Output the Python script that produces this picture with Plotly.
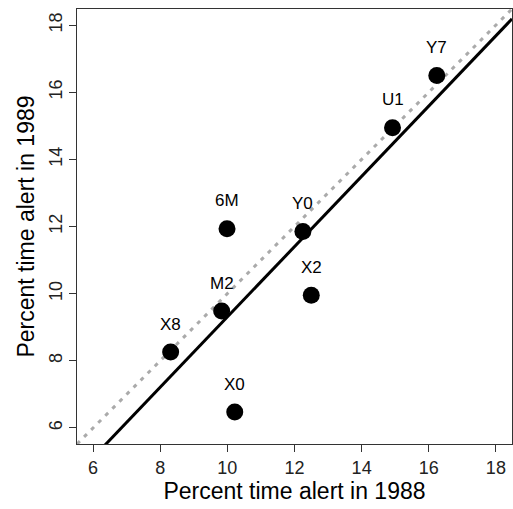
import numpy as np
import plotly.graph_objects as go

labels = ["6M", "Y0", "X2", "M2", "X8", "X0", "Y7", "U1"]
alert_1988 = [9.99, 12.25, 12.50, 9.83, 8.31, 10.22, 16.24, 14.92]
alert_1989 = [11.93, 11.85, 9.95, 9.48, 8.26, 6.47, 16.50, 14.94]
tick_vals = [6, 8, 10, 12, 14, 16, 18]
axis_range = [5.52, 18.48]

slope, intercept = np.polyfit(alert_1988, alert_1989, 1)
line_x = np.array(axis_range)

fig = go.Figure()
fig.add_trace(go.Scatter(x=line_x, y=line_x, mode="lines",
                         line=dict(color="#aaaaaa", width=3, dash="4px,6px"),
                         hoverinfo="skip", showlegend=False))
fig.add_trace(go.Scatter(x=line_x, y=slope * line_x + intercept, mode="lines",
                         line=dict(color="black", width=3),
                         hoverinfo="skip", showlegend=False))
fig.add_trace(go.Scatter(x=alert_1988, y=alert_1989, mode="markers",
                         marker=dict(color="black", size=17),
                         hoverinfo="skip", showlegend=False))
for lab, xv, yv in zip(labels, alert_1988, alert_1989):
    fig.add_annotation(x=xv, y=yv, text=lab, showarrow=False, yshift=28,
                       font=dict(family="Liberation Sans, Arial", size=17, color="black"))

axis_common = dict(range=axis_range, tickvals=tick_vals, ticks="outside", ticklen=7,
                   tickcolor="#333", showline=True, linecolor="#333", linewidth=1,
                   mirror=True, showgrid=False, zeroline=False, automargin=False,
                   tickfont=dict(family="Liberation Sans, Arial", size=18, color="#222"))
fig.update_xaxes(**axis_common,
                 title=dict(text="Percent time alert in 1988", standoff=6,
                            font=dict(family="Liberation Sans, Arial", size=23, color="black")))
fig.update_yaxes(**axis_common, tickangle=-90, ticklabelstandoff=0,
                 title=dict(text="Percent time alert in 1989", standoff=4,
                            font=dict(family="Liberation Sans, Arial", size=23, color="black")))
fig.update_layout(width=513, height=509, margin=dict(l=77, r=1, t=9, b=65),
                  plot_bgcolor="white", paper_bgcolor="white")
fig.write_html("out.html", config={"displayModeBar": False},
               post_script="document.body.style.margin='0';document.body.style.overflow='hidden';")
